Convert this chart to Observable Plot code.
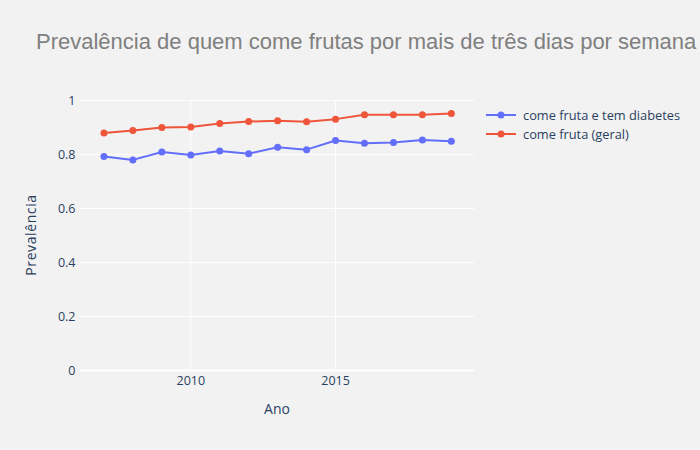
<!DOCTYPE html>
<html>
<head>
<meta charset="utf-8">
<script src="https://cdn.jsdelivr.net/npm/d3@7"></script>
<script src="https://cdn.jsdelivr.net/npm/@observablehq/plot@0.6"></script>
<style>
  html, body { margin: 0; padding: 0; background: #f2f2f2; }
  #wrap { position: relative; width: 700px; height: 450px; background: #f2f2f2; overflow: hidden; }
  #title { position: absolute; left: 36px; top: 29px; font-family: "Liberation Sans", Arial, sans-serif; font-size: 22px; color: #7f7f7f; white-space: nowrap; }
  #legend { position: absolute; left: 486px; top: 105px; font-family: "Open Sans", sans-serif; font-size: 12.8px; color: #2a3f5f; }
  .item { display: flex; align-items: center; height: 19px; }
  .item svg { margin-right: 6px; }
  .axt { position: absolute; font-family: "Open Sans", sans-serif; font-size: 14px; color: #2a3f5f; white-space: nowrap; transform: translate(-50%, -50%); }
  #ylab { letter-spacing: 0.6px; transform: translate(-50%, -50%) rotate(-90deg); }
</style>
</head>
<body>
<div id="wrap">
  <div id="title"></div>
  <div id="legend"></div>
  <div id="xlab" class="axt" style="left:277px; top:408px;"></div>
  <div id="ylab" class="axt" style="left:30px; top:235px;"></div>
</div>
<script>
const titleText = "Prevalência de quem come frutas por mais de três dias por semana";
const xLabel = "Ano";
const yLabel = "Prevalência";
const years = [2007, 2008, 2009, 2010, 2011, 2012, 2013, 2014, 2015, 2016, 2017, 2018, 2019];
const diabetes = [0.793, 0.780, 0.809, 0.798, 0.813, 0.803, 0.827, 0.818, 0.852, 0.842, 0.844, 0.854, 0.849];
const geral = [0.880, 0.889, 0.900, 0.902, 0.915, 0.922, 0.925, 0.921, 0.931, 0.947, 0.947, 0.947, 0.952];
const seriesNames = ["come fruta e tem diabetes", "come fruta (geral)"];
const seriesColors = ["#636efa", "#ef553b"];
const xTicks = [2010, 2015];
const yTicks = [0, 0.2, 0.4, 0.6, 0.8, 1];

const data = [];
years.forEach((y, i) => {
  data.push({ano: y, valor: diabetes[i], serie: seriesNames[0]});
  data.push({ano: y, valor: geral[i], serie: seriesNames[1]});
});

document.getElementById("title").textContent = titleText;
document.getElementById("xlab").textContent = xLabel;
document.getElementById("ylab").textContent = yLabel;

const chart = Plot.plot({
  width: 700,
  height: 450,
  marginLeft: 80,
  marginRight: 226,
  marginTop: 100,
  marginBottom: 80,
  style: { background: "#f2f2f2", fontFamily: "'Open Sans', sans-serif", fontSize: "12px", color: "#2a3f5f" },
  x: { domain: [2006.19, 2019.8], ticks: xTicks, tickFormat: d => String(d), label: null },
  y: { domain: [0, 1], ticks: yTicks, tickFormat: d => String(d), label: null },
  color: { domain: seriesNames, range: seriesColors },
  marks: [
    Plot.gridY(yTicks, { stroke: "#ffffff", strokeOpacity: 1, strokeWidth: 1 }),
    Plot.gridX(xTicks, { stroke: "#ffffff", strokeOpacity: 1, strokeWidth: 1 }),
    Plot.ruleY([0], { stroke: "#ffffff", strokeWidth: 2 }),
    Plot.axisY(yTicks, { tickSize: 0, tickPadding: 5, fontSize: 12.5, fill: "#2a3f5f", tickFormat: d => String(d), label: null }),
    Plot.axisX(xTicks, { tickSize: 0, tickPadding: 6, fontSize: 12.5, fill: "#2a3f5f", tickFormat: d => String(d), label: null }),
    Plot.line(data, { x: "ano", y: "valor", stroke: "serie", strokeWidth: 2 }),
    Plot.dot(data, { x: "ano", y: "valor", fill: "serie", r: 3.5 })
  ]
});
document.getElementById("wrap").insertBefore(chart, document.getElementById("title"));
chart.style.position = "absolute";
chart.style.left = "0px";
chart.style.top = "0px";

const legend = document.getElementById("legend");
seriesNames.forEach((n, i) => {
  const d = document.createElement("div");
  d.className = "item";
  d.innerHTML = `<svg width="31" height="10"><line x1="0" x2="30" y1="5" y2="5" stroke="${seriesColors[i]}" stroke-width="2"/><circle cx="15" cy="5" r="3.5" fill="${seriesColors[i]}"/></svg><span>${n}</span>`;
  legend.appendChild(d);
});
</script>
</body>
</html>
